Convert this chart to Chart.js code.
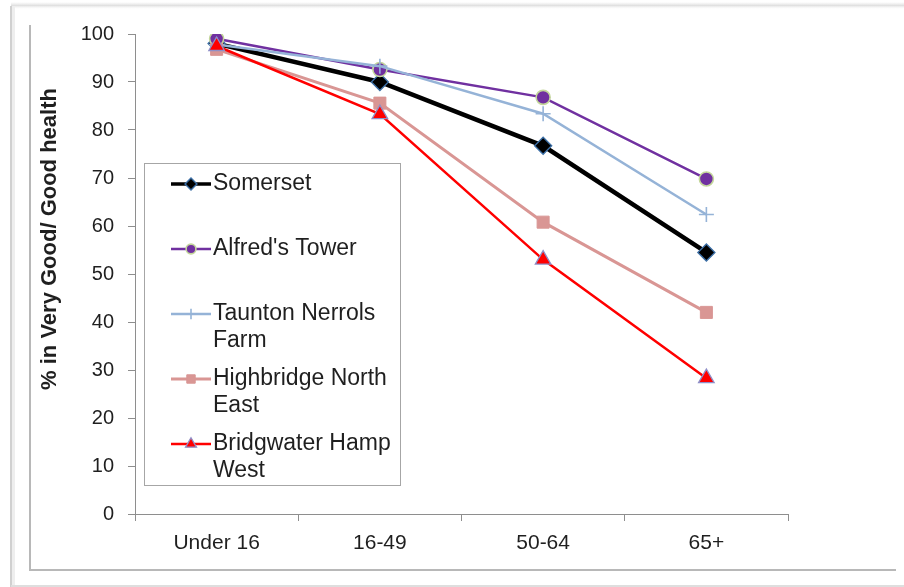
<!DOCTYPE html>
<html>
<head>
<meta charset="utf-8">
<script src="https://cdn.jsdelivr.net/npm/chart.js@4"></script>
<style>
  html, body { margin: 0; padding: 0; background: #fff; }
  #wrap { width: 904px; height: 587px; }
</style>
</head>
<body>
<div id="wrap"><canvas id="c" width="904" height="587"></canvas></div>
<script>
// Age bands on the x axis
const categories = ["Under 16", "16-49", "50-64", "65+"];

// % of residents reporting Very Good / Good health, by area
const somerset    = [98.0, 90.0, 76.7, 54.5];
const alfredsTower = [99.0, 92.6, 86.8, 69.8];
const tauntonNerrols = [97.8, 93.3, 83.4, 62.4];
const highbridgeNE = [96.8, 85.6, 60.8, 42.0];
const bridgwaterHW = [97.5, 83.3, 53.0, 28.3];

const seriesNames = ["Somerset", "Alfred's Tower", "Taunton Nerrols Farm", "Highbridge North East", "Bridgwater Hamp West"];

// Y axis ticks
const yTicks = [0, 10, 20, 30, 40, 50, 60, 70, 80, 90, 100];
const yTitle = "% in Very Good/ Good health";

const FONT = "'Liberation Sans', Arial, sans-serif";
const TEXT = "#1f1f1f";
const AXIS = "#8e8e8e";

const styles = [
  { color: "#000000", width: 4.5, point: "rectRot", r: 8.5, fill: "#000000", border: "#3b6ea5", bw: 1.4 },
  { color: "#7030A0", width: 2.5, point: "circle",  r: 7,   fill: "#7030A0", border: "#c3d69b", bw: 1.6 },
  { color: "#95B3D7", width: 2.5, point: "cross",   r: 7.5, fill: "#95B3D7", border: "#95B3D7", bw: 1.6 },
  { color: "#D99694", width: 3,   point: "rect",    r: 8.5, fill: "#D99694", border: "#D99694", bw: 1 },
  { color: "#FF0000", width: 2.5, point: "triangle",r: 9,   fill: "#FF0000", border: "#8f8fc8", bw: 1.3 }
];
const seriesData = [somerset, alfredsTower, tauntonNerrols, highbridgeNE, bridgwaterHW];

const datasets = seriesData.map((d, i) => ({
  label: seriesNames[i],
  data: d,
  borderColor: styles[i].color,
  backgroundColor: styles[i].fill,
  borderWidth: styles[i].width,
  pointStyle: styles[i].point,
  pointRadius: styles[i].r,
  pointBackgroundColor: styles[i].fill,
  pointBorderColor: styles[i].border,
  pointBorderWidth: styles[i].bw,
  tension: 0,
  order: seriesData.length - i
}));

// Frame around the figure
const framePlugin = {
  id: "frame",
  beforeDraw(chart) {
    const ctx = chart.ctx;
    ctx.save();
    ctx.fillStyle = "#ffffff";
    ctx.fillRect(0, 0, chart.width, chart.height);
    // top soft edge
    const g = ctx.createLinearGradient(0, 2, 0, 9);
    g.addColorStop(0, "rgba(230,230,230,0)");
    g.addColorStop(0.5, "rgba(225,225,225,1)");
    g.addColorStop(1, "rgba(245,245,245,0)");
    ctx.fillStyle = g;
    ctx.fillRect(11, 2, chart.width - 11, 7);
    // outer left edge
    ctx.fillStyle = "#d0d0d0";
    ctx.fillRect(10, 6, 2, chart.height - 6);
    ctx.fillStyle = "#eeeeee";
    ctx.fillRect(12, 6, 3, chart.height - 6);
    // outer bottom edge
    ctx.fillStyle = "#dedede";
    ctx.fillRect(11, 585, chart.width - 11, 2);
    // inner chart border (left + bottom)
    ctx.fillStyle = "#b8b8b8";
    ctx.fillRect(29, 25, 2, 546);
    ctx.fillRect(29, 569, 867, 2);
    ctx.restore();
  }
};

// Axis title, drawn vertically beside the value axis
const yTitlePlugin = {
  id: "ytitle",
  afterDraw(chart) {
    const ctx = chart.ctx;
    ctx.save();
    ctx.translate(50, 239);
    ctx.rotate(-Math.PI / 2);
    ctx.font = "bold 22px " + FONT;
    ctx.fillStyle = TEXT;
    ctx.textAlign = "center";
    ctx.textBaseline = "middle";
    ctx.fillText(yTitle, 0, 0);
    ctx.restore();
  }
};

// Boxed legend placed inside the plot area
const boxLegendPlugin = {
  id: "boxLegend",
  afterDatasetsDraw(chart) {
    const ctx = chart.ctx;
    const box = { x: 144.5, y: 163.5, w: 256, h: 322 };
    ctx.save();
    ctx.fillStyle = "#ffffff";
    ctx.fillRect(box.x, box.y, box.w, box.h);
    ctx.strokeStyle = "#a6a6a6";
    ctx.lineWidth = 1;
    ctx.strokeRect(box.x, box.y, box.w, box.h);

    ctx.font = "23px " + FONT;
    ctx.fillStyle = TEXT;
    ctx.textAlign = "left";
    ctx.textBaseline = "middle";
    const maxW = 185;
    chart.data.datasets.forEach((ds, i) => {
      const y0 = 184 + i * 65;
      // sample line + marker
      ctx.strokeStyle = ds.borderColor;
      ctx.lineWidth = Math.min(ds.borderWidth, 3.5);
      ctx.beginPath();
      ctx.moveTo(171, y0);
      ctx.lineTo(211, y0);
      ctx.stroke();
      ctx.fillStyle = ds.pointBackgroundColor;
      ctx.strokeStyle = ds.pointBorderColor;
      ctx.lineWidth = ds.pointBorderWidth;
      Chart.helpers.drawPoint(ctx, {
        pointStyle: ds.pointStyle,
        radius: ds.pointRadius * 0.7,
        rotation: 0,
        borderWidth: ds.pointBorderWidth
      }, 191, y0);
      // wrapped label
      const words = ds.label.split(" ");
      const lines = [];
      let cur = "";
      words.forEach(w => {
        const t = cur ? cur + " " + w : w;
        if (ctx.measureText(t).width > maxW && cur) { lines.push(cur); cur = w; }
        else cur = t;
      });
      lines.push(cur);
      ctx.fillStyle = TEXT;
      lines.forEach((ln, k) => ctx.fillText(ln, 213, y0 + k * 26.5));
    });
    ctx.restore();
  }
};

new Chart(document.getElementById("c"), {
  type: "line",
  data: { labels: categories, datasets },
  options: {
    responsive: false,
    animation: false,
    devicePixelRatio: 1,
    layout: { padding: { left: 0, top: 34, right: 116, bottom: 0 } },
    plugins: { legend: { display: false }, tooltip: { enabled: false }, title: { display: false } },
    scales: {
      x: {
        type: "category",
        offset: true,
        grid: { display: true, offset: true, drawOnChartArea: false, drawTicks: true, tickLength: 7, color: AXIS, lineWidth: 1 },
        border: { display: true, color: AXIS, width: 1 },
        ticks: { color: TEXT, font: { family: FONT, size: 21 }, padding: 10, maxRotation: 0 },
        afterFit(s) { s.height = 73; }
      },
      y: {
        min: 0,
        max: 100,
        afterBuildTicks(s) { s.ticks = yTicks.map(v => ({ value: v })); },
        grid: { display: true, drawOnChartArea: false, drawTicks: true, tickLength: 7, color: AXIS, lineWidth: 1 },
        border: { display: true, color: AXIS, width: 1 },
        ticks: { color: TEXT, font: { family: FONT, size: 20 }, padding: 14 },
        afterFit(s) { s.width = 135; }
      }
    }
  },
  plugins: [framePlugin, boxLegendPlugin, yTitlePlugin]
});
</script>
</body>
</html>
